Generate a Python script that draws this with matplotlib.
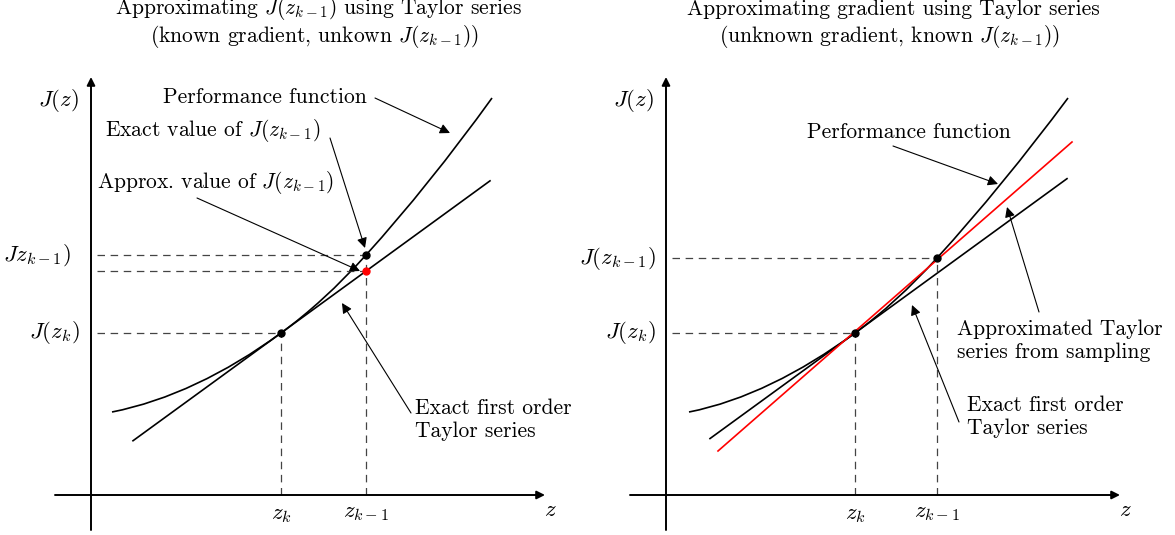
import matplotlib
matplotlib.use("Agg")
import matplotlib.pyplot as plt
from matplotlib.path import Path
from matplotlib.patches import PathPatch

plt.rcParams["font.family"] = "serif"
plt.rcParams["font.serif"] = ["cmr10"]
plt.rcParams["mathtext.fontset"] = "cm"
plt.rcParams["axes.unicode_minus"] = False

W, H = 1175, 535
FS = 15.5        # annotations and titles
FS_LAB = 16.5    # axis labels

# diagram coordinates: origin where the two axes cross, 1 unit = 1 px, y up
# performance function J(z): nodes (z, J, slope)
left_curve = [(21, 83, 0.20), (190, 162, 0.728), (275, 240, 1.108), (401, 397, 1.384)]
right_curve = [(23, 83, 0.20), (189, 162, 0.728), (271, 237, 1.10), (402, 397, 1.34)]

left_zk, left_zkm1 = 190, 275
right_zk, right_zkm1 = 189, 271
J_zk = 162
left_J_zkm1, right_J_zkm1 = 240, 237

# first order Taylor line at z_k
taylor_slope = 0.728
left_taylor_z = [42, 399]
right_taylor_z = [44, 401]

# Taylor line estimated from the sampled point
sampled_z = [52, 406]
sampled_J = [44, 353]


def curve_path(nodes):
    verts = [(nodes[0][0], nodes[0][1])]
    codes = [Path.MOVETO]
    for (x0, y0, m0), (x1, y1, m1) in zip(nodes[:-1], nodes[1:]):
        h = (x1 - x0) / 3
        verts += [(x0 + h, y0 + m0 * h), (x1 - h, y1 - m1 * h), (x1, y1)]
        codes += [Path.CURVE4] * 3
    return Path(verts, codes)


def arrow(ax, start, tip, lw=0.8, scale=15):
    ax.annotate("", xy=tip, xytext=start,
                arrowprops=dict(arrowstyle="-|>", lw=lw, color="k",
                                mutation_scale=scale, shrinkA=0, shrinkB=0))


def dashed(ax, xs, ys):
    ax.plot(xs, ys, color="#444444", lw=0.9, dashes=(6, 4.5))


def draw_axes(ax):
    arrow(ax, (0, -35), (0, 418), lw=1.4, scale=12)
    arrow(ax, (-36, 0), (454, 0), lw=1.4, scale=12)
    ax.text(-33, 395, "$J(z)$", fontsize=FS_LAB, ha="center", va="center")
    ax.text(459, -15, "$z$", fontsize=FS_LAB, ha="center", va="center")


def title(ax, line1, line2):
    ax.text(227, 486, line1, fontsize=FS, ha="center", va="center")
    ax.text(224, 459, line2, fontsize=FS, ha="center", va="center")


def setup(px0, origin):
    ax = fig.add_axes([px0 / W, 0, (W / 2) / W, 1])
    ax.set_xlim(px0 - origin, px0 + W / 2 - origin)
    ax.set_ylim(-(H - 495), 495)
    ax.axis("off")
    return ax


fig = plt.figure(figsize=(W / 100, H / 100), dpi=100)

# ---------------- left: known gradient ----------------
ax = setup(0, 91)
draw_axes(ax)
ax.add_patch(PathPatch(curve_path(left_curve), fill=False, lw=1.2, color="k"))
tx = left_taylor_z
ax.plot(tx, [J_zk + taylor_slope * (x - left_zk) for x in tx], color="k", lw=1.2)

approx = J_zk + taylor_slope * (left_zkm1 - left_zk)
dashed(ax, [6, left_zk], [J_zk, J_zk])
dashed(ax, [6, left_zkm1], [left_J_zkm1, left_J_zkm1])
dashed(ax, [6, left_zkm1], [approx, approx])
dashed(ax, [left_zk, left_zk], [0, J_zk])
dashed(ax, [left_zkm1, left_zkm1], [0, left_J_zkm1])

ax.plot([left_zk, left_zkm1], [J_zk, left_J_zkm1], "o", color="k", ms=5)
ax.plot(left_zkm1, approx, "o", color="#ff0000", ms=5)

ax.text(-11, J_zk, "$J(z_k)$", fontsize=FS_LAB, ha="right", va="center")
ax.text(-20, left_J_zkm1, "$Jz_{k-1})$", fontsize=FS_LAB, ha="right", va="center")
ax.text(left_zk, -20, "$z_k$", fontsize=FS_LAB, ha="center", va="center")
ax.text(left_zkm1, -18, "$z_{k-1}$", fontsize=FS_LAB, ha="center", va="center")

title(ax, "Approximating $J(z_{k-1})$ using Taylor series",
      "(known gradient, unkown $J(z_{k-1})$)")

ax.text(276, 398, "Performance function", fontsize=FS, ha="right", va="center")
arrow(ax, (284, 397), (359, 362))
ax.text(14, 365, "Exact value of $J(z_{k-1})$", fontsize=FS, ha="left", va="center")
arrow(ax, (239, 357), (274, 247))
ax.text(6, 312, "Approx. value of $J(z_{k-1})$", fontsize=FS, ha="left", va="center")
arrow(ax, (106, 297), (269, 224))
ax.text(324, 75, "Exact first order\nTaylor series", fontsize=FS, ha="left",
        va="center", linespacing=1.2)
arrow(ax, (320, 82), (251, 192))

# ---------------- right: known J(z_{k-1}) ----------------
ax = setup(W / 2, 666)
draw_axes(ax)
ax.add_patch(PathPatch(curve_path(right_curve), fill=False, lw=1.2, color="k"))
tx = right_taylor_z
ax.plot(tx, [J_zk + taylor_slope * (x - right_zk) for x in tx], color="k", lw=1.2)
ax.plot(sampled_z, sampled_J, color="#ff0000", lw=1.2)

dashed(ax, [6, right_zk], [J_zk, J_zk])
dashed(ax, [6, right_zkm1], [right_J_zkm1, right_J_zkm1])
dashed(ax, [right_zk, right_zk], [0, J_zk])
dashed(ax, [right_zkm1, right_zkm1], [0, right_J_zkm1])

ax.plot([right_zk, right_zkm1], [J_zk, right_J_zkm1], "o", color="k", ms=5)

ax.text(-10, J_zk, "$J(z_k)$", fontsize=FS_LAB, ha="right", va="center")
ax.text(-10, right_J_zkm1, "$J(z_{k-1})$", fontsize=FS_LAB, ha="right", va="center")
ax.text(right_zk, -20, "$z_k$", fontsize=FS_LAB, ha="center", va="center")
ax.text(right_zkm1, -18, "$z_{k-1}$", fontsize=FS_LAB, ha="center", va="center")

title(ax, "Approximating gradient using Taylor series",
      "(unknown gradient, known $J(z_{k-1})$)")

ax.text(141, 363, "Performance function", fontsize=FS, ha="left", va="center")
arrow(ax, (227, 349), (332, 311))
ax.text(291, 154, "Approximated Taylor\nseries from sampling", fontsize=FS,
        ha="left", va="center", linespacing=1.2)
arrow(ax, (373, 183), (341, 288))
ax.text(301, 78, "Exact first order\nTaylor series", fontsize=FS, ha="left",
        va="center", linespacing=1.2)
arrow(ax, (293, 73), (246, 190))

fig.savefig("out.png", dpi=100)
